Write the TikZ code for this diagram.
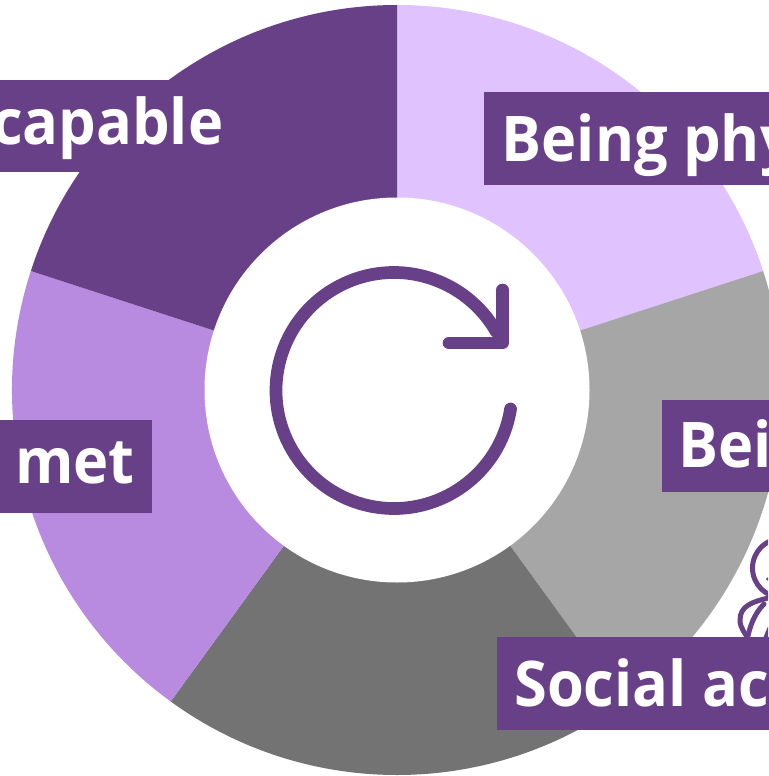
\documentclass[tikz,border=0pt]{standalone}
\usepackage{fontspec}
\setmainfont{Open Sans}
\newfontfamily\labelfont[FakeStretch=0.945]{Open Sans}
\definecolor{deep}{HTML}{684088}
\definecolor{lilac}{HTML}{E0C2FF}
\definecolor{orchid}{HTML}{B88AE0}
\definecolor{midgray}{HTML}{A6A6A6}
\definecolor{darkgray}{HTML}{737373}
\tikzset{
  box/.style={fill=deep,draw=none},
  labeltext/.style={text=white,inner sep=0pt,font=\labelfont\fontsize{63}{70}\selectfont\bfseries},
  icon/.style={draw=deep,line width=12.7pt,line cap=round,line join=round},
  figureline/.style={draw=deep,line width=5pt,fill=white,line cap=round,line join=round}
}
\begin{document}
\begin{tikzpicture}[x=1pt,y=1pt]
\useasboundingbox (0,0) rectangle (768,-776);
\fill[white] (0,0) rectangle (768,-776);
\coordinate (c) at (397,-390);
% wedges
\fill[lilac]    (c) -- +(90:385)  arc[start angle=90,end angle=18,radius=385] -- cycle;
\fill[midgray]  (c) -- +(18:385)  arc[start angle=18,end angle=-54,radius=385] -- cycle;
\fill[darkgray] (c) -- +(-54:385) arc[start angle=-54,end angle=-126,radius=385] -- cycle;
\fill[orchid]   (c) -- +(-126:385) arc[start angle=-126,end angle=-198,radius=385] -- cycle;
\fill[deep]     (c) -- +(162:385) arc[start angle=162,end angle=90,radius=385] -- cycle;
\fill[white] (c) circle[radius=192.5];
% person figure
\begin{scope}
\clip (0,0) rectangle (768,-776);
\draw[figureline] (782,-568) circle[radius=29.5];
\draw[figureline] (768,-598) .. controls (752,-602) and (740,-606) .. (740,-620)
  .. controls (740,-628) and (745,-633) .. (749,-640);
\draw[figureline,fill=none] (764,-604) .. controls (754,-614) and (750,-626) .. (747,-640);
\draw[figureline,fill=none] (770,-628) -- (765,-640);
\fill[deep] (767.5,-579) circle[radius=1.6];
\end{scope}
% label boxes
\fill[box] (-2,-80) rectangle (238,-172);
\fill[box] (484,-92) rectangle (770,-184.5);
\fill[box] (662,-400) rectangle (770,-492);
\fill[box] (497,-637) rectangle (770,-729.5);
\fill[box] (-2,-420) rectangle (152,-513);
\node[labeltext,anchor=base east] (capable) at (223.5,-144) {capable};
\node[labeltext,anchor=base west] (physical) at (501.5,-161) {Being phy};
\node[labeltext,anchor=base west] (bei) at (678,-467) {Bei};
\node[labeltext,anchor=base west] (social) at (514,-706) {Social ac};
\node[labeltext,anchor=base east] (met) at (135,-483) {met};
% cycle arrow
\coordinate (arcstart) at ({394+118*cos(-9)},{-390.5+118*sin(-9)});
\draw[icon] (arcstart) arc[start angle=-9,end angle=-330,radius=118];
\draw[icon] (502.5,-290) -- (502.5,-343) -- (449,-343);
\end{tikzpicture}
\end{document}
